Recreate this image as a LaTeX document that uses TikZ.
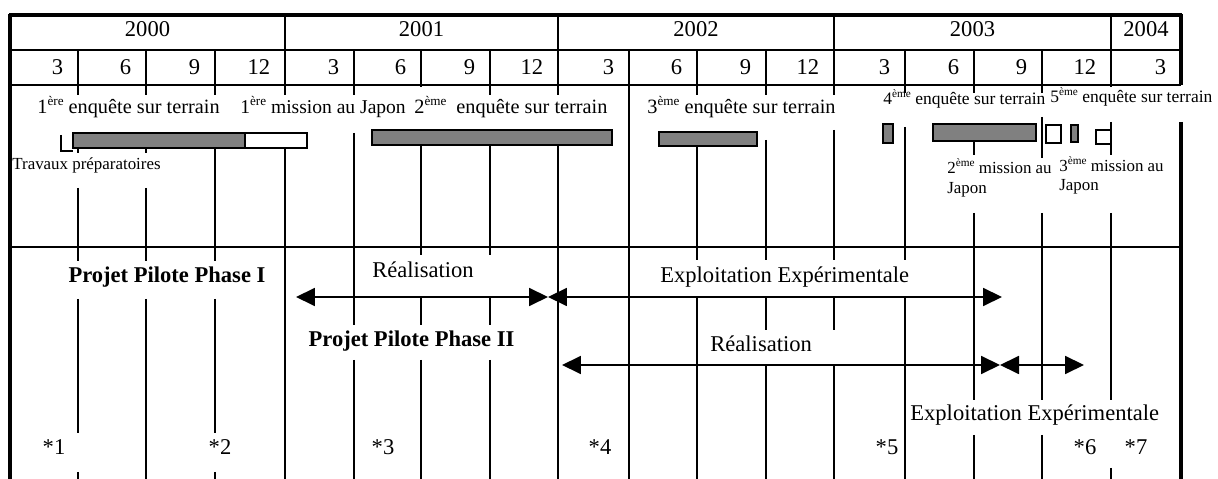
\documentclass[tikz,border=0pt]{standalone}
\usepackage{fontspec}
\setmainfont{Liberation Serif}
\usetikzlibrary{arrows.meta}
\definecolor{barfill}{RGB}{128,128,128}
\newcommand\supA[1]{\raisebox{0.42em}{\fontsize{7}{8}\selectfont #1}}
\newcommand\supB[1]{\raisebox{0.42em}{\fontsize{6}{7}\selectfont #1}}
\begin{document}
\begin{tikzpicture}[x=0.532pt,y=-0.532pt,
  gridln/.style={line width=1.06pt},
  borderln/.style={line width=2pt},
  barg/.style={draw,line width=0.85pt,fill=barfill},
  barw/.style={draw,line width=0.85pt,fill=white},
  hdr/.style={font=\fontsize{12}{14}\selectfont,inner sep=0pt},
  big/.style={font=\fontsize{12}{14}\selectfont,inner sep=0pt},
  lblA/.style={font=\fontsize{10.8}{13}\selectfont,inner sep=0pt,anchor=base west},
  lblB/.style={font=\fontsize{9.3}{11}\selectfont,inner sep=0pt,anchor=base west},
  lblC/.style={font=\fontsize{9}{11}\selectfont,inner sep=0pt,anchor=base west},
  tipT/.tip={Triangle[length=10.1pt,width=9.6pt]},
  arr/.style={line width=0.9pt,tipT-tipT},
]
\useasboundingbox (0,0) rectangle (1218,479);
% horizontal rules
\draw[gridln] (10,50) -- (1181,50);
\draw[gridln] (10,85) -- (1181,85);
\draw[gridln] (10,247) -- (1181,247);
\draw[borderln] (9,15) -- (1182,15);
% borders
\draw[borderln] (10,14) -- (10,479);
\draw[borderln] (1181,14) -- (1181,85);
\draw[borderln] (1181,122) -- (1181,479);
% interior vertical segments
\foreach \x/\a/\b in {
 78/50/95, 78/148/153, 78/188/261, 78/299/433, 78/472/479,
 146/50/95, 146/148/153, 146/188/261, 146/299/479,
 215/50/95, 215/148/261, 215/299/433, 215/472/479,
 285/15/95, 285/148/479,
 354/50/95, 354/133/325, 354/360/479,
 421/50/87, 421/145/255, 421/297/325, 421/360/479,
 490/50/95, 490/145/255, 490/297/325, 490/360/479,
 558/15/95, 558/145/479,
 629/50/479,
 697/50/95, 697/146/260, 697/297/479,
 766/50/95, 766/140/260, 766/297/330, 766/366/479,
 834/15/95, 834/130/260, 834/297/330, 834/366/479,
 905/50/93, 905/127/260, 905/297/479,
 974/50/93, 974/141/155, 974/213/400, 974/435/479,
 1042/50/93, 1042/117/158, 1042/213/400, 1042/435/479,
 1111/15/87, 1111/122/155, 1111/213/400, 1111/468/479}
 \draw[gridln] (\x,\a) -- (\x,\b);
% header years
\node[hdr,anchor=base] (y2000) at (147.5,37) {2000};
\node[hdr,anchor=base] (y2001) at (421.5,37) {2001};
\node[hdr,anchor=base] (y2002) at (696,37) {2002};
\node[hdr,anchor=base] (y2003) at (972.5,37) {2003};
\node[hdr,anchor=base] (y2004) at (1146,37) {2004};
% header months
\foreach \r/\m/\n in {78/3/m1,146/6/m2,215/9/m3,285/12/m4,354/3/m5,421/6/m6,490/9/m7,558/12/m8,
  629/3/m9,697/6/m10,766/9/m11,834/12/m12,905/3/m13,974/6/m14,1042/9/m15,1111/12/m16,1181/3/m17}
  \node[hdr,anchor=base east] (\n) at (\r-14.5,75) {\m};
% bars
\draw[barg] (73,133) rectangle (245,148);
\draw[barw] (245,133) rectangle (307,148);
\draw[line width=0.85pt] (61,135) -- (61,151) -- (73,151);
\draw[barg] (372,130) rectangle (612,145);
\draw[barg] (659,132) rectangle (757,146);
\draw[barg] (883,124) rectangle (893,143);
\draw[barg] (933,124) rectangle (1036,141);
\draw[barw] (1046,125) rectangle (1061,143);
\draw[barg] (1071,125) rectangle (1078,142);
\draw[line width=0.85pt] (1111,130) -- (1096,130) -- (1096,144) -- (1111,144);
% upper labels
\node[lblA] (e1) at (37,114) {1\supA{ère} enquête sur terrain};
\node[lblA,font=\fontsize{10.4}{13}\selectfont] (mj1) at (240,114) {1\supA{ère} mission au Japon};
\node[lblA] (e2) at (414,114) {2\supA{ème}\hspace{5.3pt}enquête sur terrain};
\node[lblA] (e3) at (647,114) {3\supA{ème} enquête sur terrain};
\node[lblB] (e4) at (883,105) {4\supB{ème} enquête sur terrain};
\node[lblB] (e5) at (1050,103) {5\supB{ème} enquête sur terrain};
\node[lblC] (tp) at (12,170) {Travaux préparatoires};
\node[lblC] (mj2a) at (947,174) {2\supB{ème} mission au};
\node[lblC] (mj2b) at (947,194) {Japon};
\node[lblC] (mj3a) at (1059,172) {3\supB{ème} mission au};
\node[lblC] (mj3b) at (1059,191) {Japon};
% lower labels
\node[big,anchor=base,font=\fontsize{12}{14}\selectfont\bfseries] (pp1) at (167,283) {Projet Pilote Phase I};
\node[big,anchor=base] (re1) at (423,278) {Réalisation};
\node[big,anchor=base west] (ex1) at (660,283) {Exploitation Expérimentale};
\node[big,anchor=base,font=\fontsize{12}{14}\selectfont\bfseries] (pp2) at (411.5,347) {Projet Pilote Phase II};
\node[big,anchor=base west] (re2) at (710,352) {Réalisation};
\node[big,anchor=base west] (ex2) at (910,421) {Exploitation Expérimentale};
% arrows
\coordinate (a1s) at (296,297);
\coordinate (a1e) at (548,297);
\coordinate (a2e) at (1002,297);
\coordinate (a3s) at (562,365);
\coordinate (a3e) at (1000,365);
\coordinate (a4e) at (1084,365);
\draw[arr] (a1s) -- (a1e);
\draw[arr] (a1e) -- (a2e);
\draw[arr] (a3s) -- (a3e);
\draw[arr] (a3e) -- (a4e);
% stars
\foreach \x/\t/\n in {54/1/s1,220/2/s2,383/3/s3,600/4/s4,887/5/s5,1085/6/s6,1136/7/s7}
  \node[big,anchor=base] (\n) at (\x,455) {*\t};
\end{tikzpicture}
\end{document}
